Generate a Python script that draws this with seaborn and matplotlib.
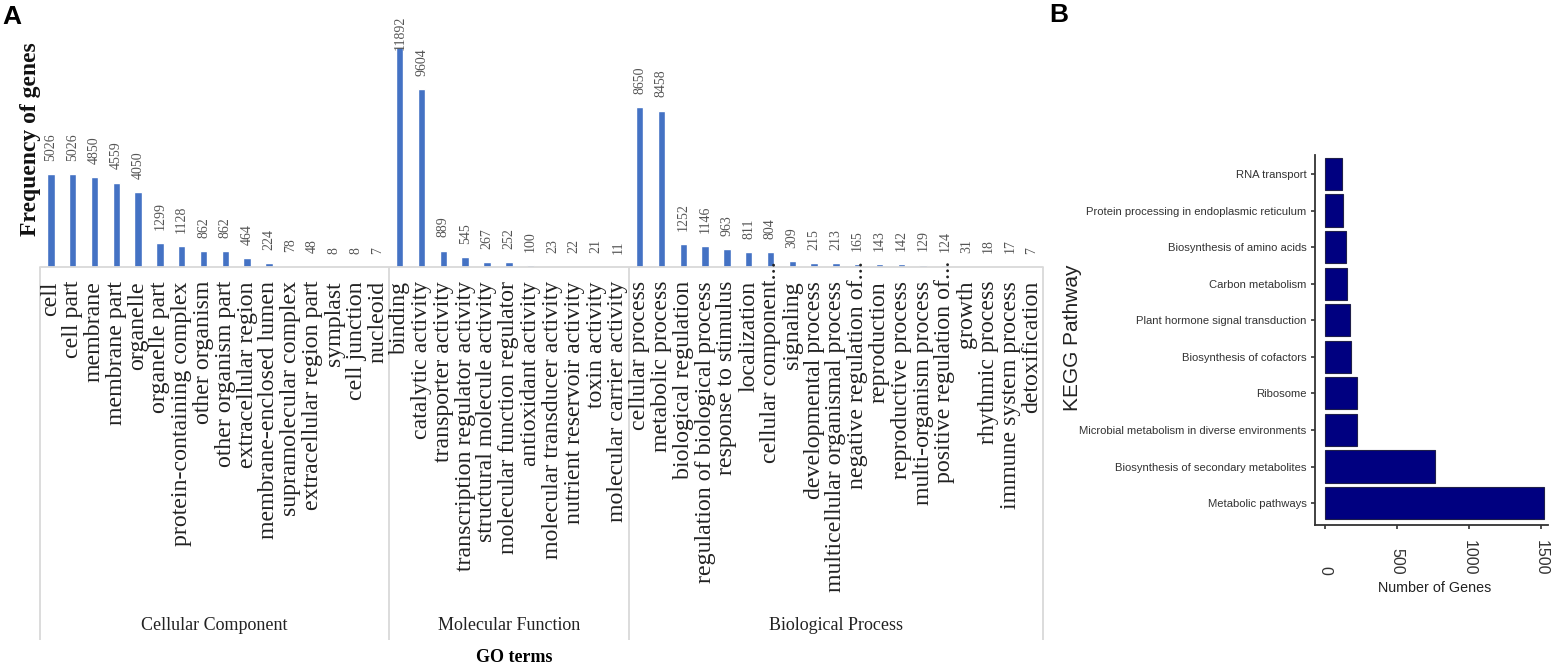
import matplotlib
matplotlib.use("Agg")
import matplotlib.pyplot as plt
import pandas as pd
import seaborn as sns

W, H = 1551, 669

# GO terms
cc_terms = ["cell", "cell part", "membrane", "membrane part", "organelle", "organelle part",
            "protein-containing complex", "other organism", "other organism part",
            "extracellular region", "membrane-enclosed lumen", "supramolecular complex",
            "extracellular region part", "symplast", "cell junction", "nucleoid"]
cc_counts = [5026, 5026, 4850, 4559, 4050, 1299, 1128, 862, 862, 464, 224, 78, 48, 8, 8, 7]

mf_terms = ["binding", "catalytic activity", "transporter activity",
            "transcription regulator activity", "structural molecule activity",
            "molecular function regulator", "antioxidant activity",
            "molecular transducer activity", "nutrient reservoir activity",
            "toxin activity", "molecular carrier activity"]
mf_counts = [11892, 9604, 889, 545, 267, 252, 100, 23, 22, 21, 11]

bp_terms = ["cellular process", "metabolic process", "biological regulation",
            "regulation of biological process", "response to stimulus", "localization",
            "cellular component...", "signaling", "developmental process",
            "multicellular organismal process", "negative regulation of...", "reproduction",
            "reproductive process", "multi-organism process", "positive regulation of...",
            "growth", "rhythmic process", "immune system process", "detoxification"]
bp_counts = [8650, 8458, 1252, 1146, 963, 811, 804, 309, 215, 213, 165, 143, 142, 129, 124,
             31, 18, 17, 7]

group_names = ["Cellular Component", "Molecular Function", "Biological Process"]

# KEGG pathways
kegg_terms = ["RNA transport", "Protein processing in endoplasmic reticulum",
              "Biosynthesis of amino acids", "Carbon metabolism",
              "Plant hormone signal transduction", "Biosynthesis of cofactors", "Ribosome",
              "Microbial metabolism in diverse environments",
              "Biosynthesis of secondary metabolites", "Metabolic pathways"]
kegg_counts = [120, 127, 143, 155, 176, 183, 220, 225, 766, 1523]

sns.set_theme(style="white")
SERIF = ["Liberation Serif", "DejaVu Serif"]
SANS = ["Liberation Sans", "DejaVu Sans"]
plt.rcParams["font.family"] = SERIF


def axes_px(fig, left, top, right, bottom):
    return fig.add_axes([left / W, 1 - bottom / H, (right - left) / W, (bottom - top) / H])


fig = plt.figure(figsize=(W / 100, H / 100), dpi=100)

# panel A
base_y = 267
ax = axes_px(fig, 40, 0, 1043, base_y)
go = pd.DataFrame({"term": cc_terms + mf_terms + bp_terms,
                   "count": cc_counts + mf_counts + bp_counts})
sns.barplot(data=go, x="term", y="count", color="#4472C4", saturation=1, width=0.34, ax=ax)
ax.set_xlim(-0.5, len(go) - 0.5)
ax.set_ylim(0, 14432)
ax.set_xlabel("")
ax.set_ylabel("")
ax.set_xticks([])
ax.set_yticks([])
sns.despine(ax=ax, left=True, bottom=True)

xtrans = ax.get_xaxis_transform()
for i, row in go.iterrows():
    # tallest label runs into its own bar, the first digit sits on the bar top
    gap = -2.5 if row["count"] == go["count"].max() else 9.5
    ax.annotate(str(row["count"]), (i, row["count"]), xytext=(0, gap),
                textcoords="offset points", rotation=90, ha="center", va="bottom",
                fontsize=10, color="#555555", annotation_clip=False)
    # labels hang from a fixed line, the cut ones stick out over the frame
    top_px = 261 if row["term"].endswith("...") else 281
    ax.text(i, (base_y - top_px) / base_y, row["term"], transform=xtrans, rotation=90,
            ha="center", va="top", fontsize=17.2, color="#222222", clip_on=False)

# frame and group labels under the bars
frame_low = (base_y - 640) / base_y
ax.axhline(0, color="#d9d9d9", lw=1.3, clip_on=False)
edges = [-0.5]
for terms in (cc_terms, mf_terms, bp_terms):
    edges.append(edges[-1] + len(terms))
ax.vlines(edges, frame_low, 0, transform=xtrans, color="#d9d9d9", lw=1.3, clip_on=False)
for k, name in enumerate(group_names):
    ax.text((edges[k] + edges[k + 1]) / 2, (base_y - 625) / base_y, name, transform=xtrans,
            ha="center", va="center", fontsize=13, color="#222222", clip_on=False)

fig.text(514 / W, 1 - 657 / H, "GO terms", ha="center", va="center", fontsize=13,
         fontweight="bold", color="black")
fig.text(31 / W, 1 - 139 / H, "Frequency of genes", rotation=90, ha="center", va="center",
         fontsize=17, fontweight="bold", color="#111111")

# panel B
ax2 = axes_px(fig, 1315, 155, 1548, 525)
kegg = pd.DataFrame({"pathway": kegg_terms, "genes": kegg_counts})
sns.barplot(data=kegg, y="pathway", x="genes", color="#000080", saturation=1, width=0.88,
            edgecolor="#20204a", linewidth=0.8, ax=ax2)
ax2.set_xlim(-69, 1549)
ax2.set_ylim(9.6, -0.52)
ax2.set_xticks([0, 500, 1000, 1500])
ax2.set_xlabel("")
ax2.set_ylabel("")
sns.despine(ax=ax2)
for side in ("left", "bottom"):
    ax2.spines[side].set_color("#333333")
    ax2.spines[side].set_linewidth(1.3)
ax2.tick_params(axis="both", length=3, width=1.2, color="#333333", left=True, bottom=True)
ax2.tick_params(axis="y", pad=3, labelsize=8.1, labelcolor="#333333")
ax2.tick_params(axis="x", pad=33, labelsize=11.5, labelcolor="#333333")
for lab in ax2.get_yticklabels():
    lab.set_family(SANS)
for lab in ax2.get_xticklabels():
    lab.set_family(SANS)
    lab.set_rotation(270)
    lab.set_va("bottom")
    lab.set_ha("center")

fig.text(1435 / W, 1 - 588 / H, "Number of Genes", ha="center", va="center", fontsize=10.3,
         family=SANS, color="#222222")
fig.text(1072 / W, 1 - 338 / H, "KEGG Pathway", rotation=90, ha="center", va="center",
         fontsize=15, family=SANS, color="#222222")

# panel letters
fig.text(2 / W, 1 - 24 / H, "A", ha="left", va="baseline", fontsize=19, fontweight="bold",
         family=SANS, color="black")
fig.text(1049 / W, 1 - 22 / H, "B", ha="left", va="baseline", fontsize=19, fontweight="bold",
         family=SANS, color="black")

fig.savefig("out.png", dpi=100)
